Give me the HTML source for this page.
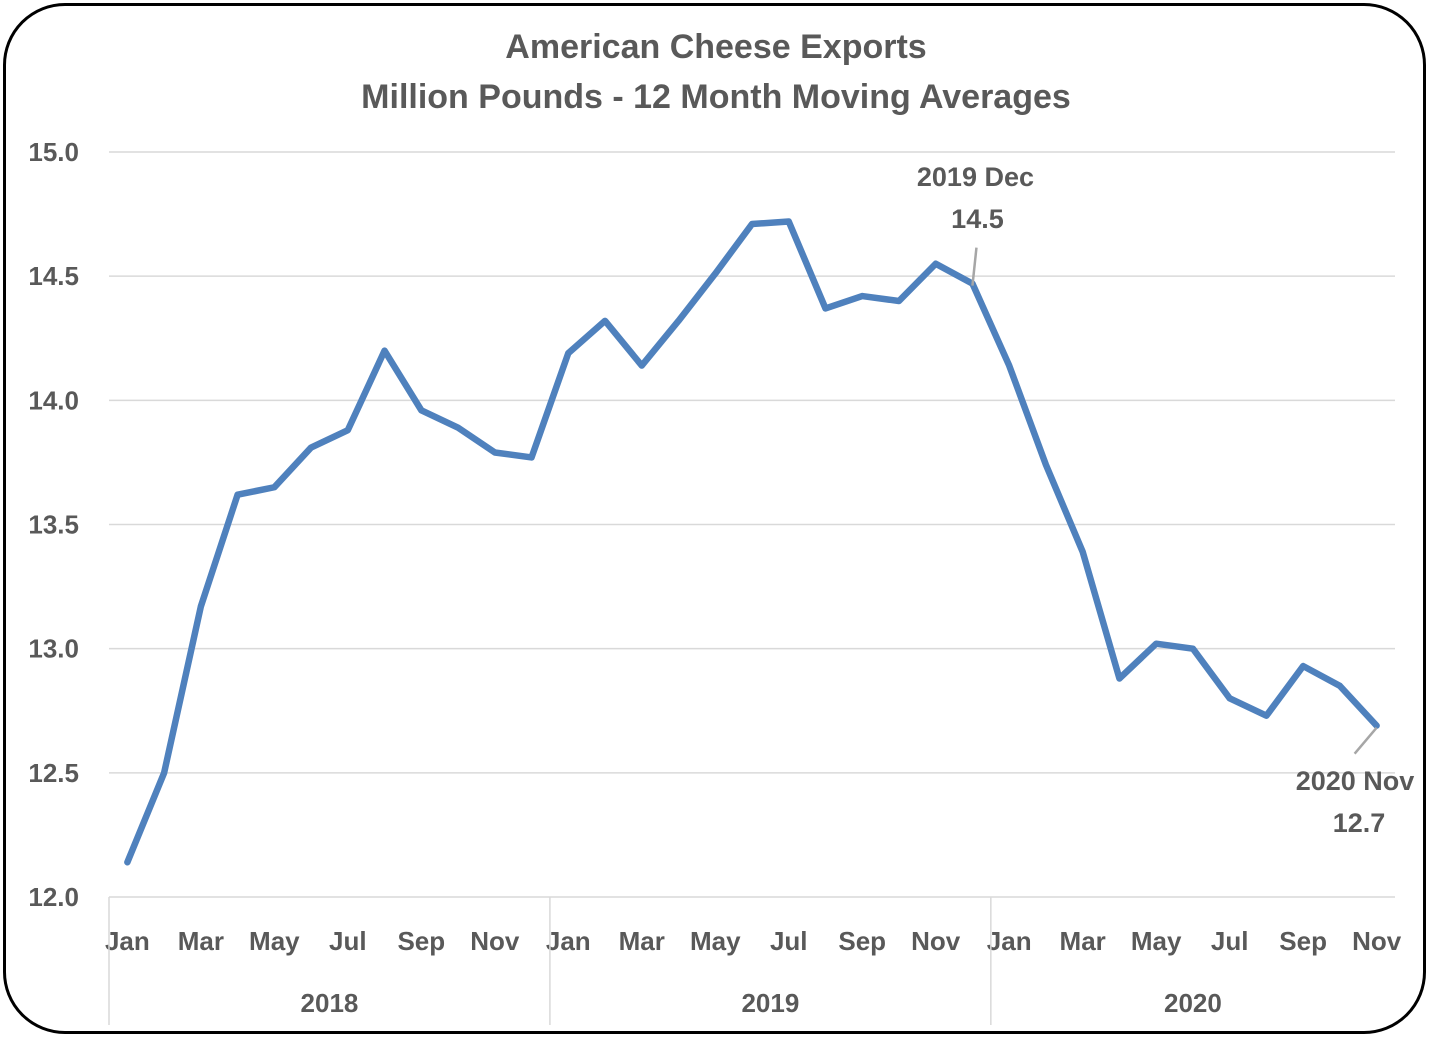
<!DOCTYPE html>
<html><head><meta charset="utf-8"><style>
body{margin:0;background:#fff;}
#frame{position:absolute;left:3px;top:3px;width:1423px;height:1031px;border:3px solid #000;border-radius:62px;box-sizing:border-box;}
svg{position:absolute;left:0;top:0;}
text{font-family:"Liberation Sans",sans-serif;font-weight:bold;fill:#595959;}
</style></head><body>
<div id="frame"></div>
<svg id="chart" width="1433" height="1041">
<text x="716" y="58" font-size="34" text-anchor="middle">American Cheese Exports</text>
<text x="716" y="108" font-size="34" text-anchor="middle">Million Pounds - 12 Month Moving Averages</text>
<g id="grid"></g><g id="axes"></g><g id="series"></g><g id="notes"></g>
</svg>
<script>
const months=["Jan","Feb","Mar","Apr","May","Jun","Jul","Aug","Sep","Oct","Nov","Dec","Jan","Feb","Mar","Apr","May","Jun","Jul","Aug","Sep","Oct","Nov","Dec","Jan","Feb","Mar","Apr","May","Jun","Jul","Aug","Sep","Oct","Nov"];
const years=["2018","2019","2020"];
const values=[12.14,12.50,13.17,13.62,13.65,13.81,13.88,14.20,13.96,13.89,13.79,13.77,14.19,14.32,14.14,14.32,14.51,14.71,14.72,14.37,14.42,14.40,14.55,14.47,14.14,13.74,13.39,12.88,13.02,13.00,12.80,12.73,12.93,12.85,12.69];
const yTicks=[12.0,12.5,13.0,13.5,14.0,14.5,15.0];
const NS="http://www.w3.org/2000/svg";
const L=109,R=1395,T=152,B=897,ymin=12,ymax=15;
const bw=(R-L)/months.length;
const x=i=>L+bw*(i+0.5);
const y=v=>B-(v-ymin)/(ymax-ymin)*(B-T);
function mk(tag,attrs,parent,txt){const e=document.createElementNS(NS,tag);for(const k in attrs)e.setAttribute(k,attrs[k]);if(txt!==undefined)e.textContent=txt;document.getElementById(parent).appendChild(e);return e;}
yTicks.forEach(t=>{
 const g=mk('line',{x1:L,x2:R,y1:y(t),y2:y(t),stroke:'#d9d9d9','stroke-width':1.5},'grid');
 
 
 const tx=mk('text',{x:79,y:y(t)+9,'font-size':26,'text-anchor':'end'},'axes',t.toFixed(1));
 
 
});
months.forEach((m,i)=>{
 if(i%2===0){const tx=mk('text',{x:x(i),y:950,'font-size':26,'text-anchor':'middle'},'axes',m);
 
 }
});
for(let k=0;k<years.length;k++){
 const xx=L+bw*12*k;
 const l=mk('line',{x1:xx,x2:xx,y1:B,y2:1025,stroke:'#d9d9d9','stroke-width':1.5},'axes');
 
 
}
years.forEach((yr,k)=>{
 const n=Math.min(12,months.length-12*k);
 const tx=mk('text',{x:L+bw*(12*k+n/2),y:1012,'font-size':26,'text-anchor':'middle'},'axes',yr);
 
 
});
const p=mk('polyline',{points:values.map((v,i)=>x(i)+','+y(v)).join(' '),fill:'none',stroke:'#4f81bd','stroke-width':6.5,'stroke-linejoin':'round','stroke-linecap':'round'},'series');


const i1=23,i2=34;
let l1=mk('line',{x1:x(i1),y1:y(values[i1])+2,x2:x(i1)+4,y2:y(values[i1])-36,stroke:'#a6a6a6','stroke-width':2.5},'notes');


let a=mk('text',{x:x(i1)+3,y:186,'font-size':27,'text-anchor':'middle',fill:'#404040'},'notes','2019 Dec');


a=mk('text',{x:x(i1)+5,y:228,'font-size':27,'text-anchor':'middle',fill:'#404040'},'notes',values[i1].toFixed(1));


let l2=mk('line',{x1:x(i2),y1:y(values[i2])+2,x2:x(i2)-22,y2:y(values[i2])+28,stroke:'#a6a6a6','stroke-width':2.5},'notes');


a=mk('text',{x:1355,y:790,'font-size':27,'text-anchor':'middle',fill:'#404040'},'notes','2020 Nov');


a=mk('text',{x:1359,y:832,'font-size':27,'text-anchor':'middle',fill:'#404040'},'notes',values[i2].toFixed(1));


</script>
</body></html>
